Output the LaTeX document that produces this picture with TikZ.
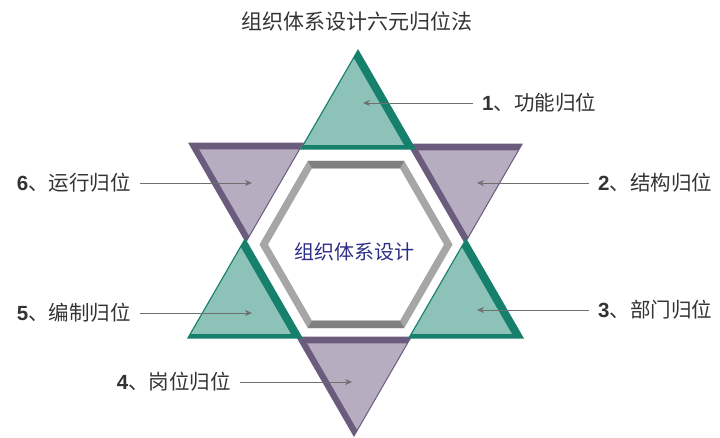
\documentclass[tikz,border=0pt]{standalone}
\usepackage{fontspec}
\newfontfamily\cjk{Noto Sans CJK SC}
\newfontfamily\arial{Liberation Sans}
\usetikzlibrary{shapes.geometric,arrows.meta}

\definecolor{teallight}{HTML}{8DC2B8}
\definecolor{tealdark}{HTML}{17806D}
\definecolor{plumlight}{HTML}{B7ADC1}
\definecolor{plumdark}{HTML}{6B5B7D}
\definecolor{hexlight}{HTML}{A6A6A6}
\definecolor{hexdark}{HTML}{7F7F7F}
\definecolor{navy}{HTML}{2E3087}
\definecolor{labelgray}{HTML}{333333}
\definecolor{pointergray}{HTML}{6F6F6F}

\newcommand{\lblnum}[1]{{\arial\bfseries #1}}

\tikzset{
  tri/.style={regular polygon, regular polygon sides=3, inner sep=0pt,
    outer sep=0pt, minimum size=134pt},
  upback/.style={tri, fill=tealdark},
  upface/.style={tri, fill=teallight, minimum size=115pt, xshift=-4pt},
  downback/.style={tri, shape border rotate=180, fill=plumdark},
  downface/.style={tri, shape border rotate=180, fill=plumlight,
    minimum size=115pt, xshift=3pt, yshift=-2pt},
  lbl/.style={font=\cjk\fontsize{20.5pt}{24pt}\selectfont, text=labelgray,
    inner xsep=9pt, inner ysep=2pt},
  pointer/.style={draw=pointergray, line width=0.8pt,
    -{Stealth[length=7pt,width=6pt]}},
}

\begin{document}
\begin{tikzpicture}[x=1pt, y=-1pt]

  \useasboundingbox (0,0) rectangle (720,437);

  % Title
  \node[font=\cjk\fontsize{21pt}{25pt}\selectfont, text=labelgray] (title)
    at (357,21) {组织体系设计六元归位法};

  % Hexagon ring
  \coordinate (hc) at (356,244.5);
  \begin{scope}[shift={(hc)}]
    \fill[hexlight, even odd rule]
      (0:96.5) -- (60:96.5) -- (120:96.5) -- (180:96.5) -- (240:96.5) -- (300:96.5) -- cycle
      (0:88) -- (60:88) -- (120:88) -- (180:88) -- (240:88) -- (300:88) -- cycle;
    \fill[hexdark] (60:96.5) -- (120:96.5) -- (120:88) -- (60:88) -- cycle;
    \fill[hexdark] (240:96.5) -- (300:96.5) -- (300:88) -- (240:88) -- cycle;
  \end{scope}
  \node[font=\cjk\fontsize{20pt}{24pt}\selectfont, text=navy] (core)
    at (354,252) {组织体系设计};

  % Down triangles
  \node[downback] (t2) at (465,177) {};
  \node[downface] at (t2) {};
  \node[downback] (t4) at (354,370) {};
  \node[downface] at (t4) {};
  \node[downback] (t6) at (246,176) {};
  \node[downface] at (t6) {};

  % Up triangles
  \node[upback] (t1) at (358,116) {};
  \node[upface] at (t1) {};
  \node[upback] (t3) at (466,305) {};
  \node[upface] at (t3) {};
  \node[upback] (t5) at (245,305) {};
  \node[upface] at (t5) {};

  % Labels
  \node[lbl, anchor=west] (l1) at (473,103) {\lblnum{1}、功能归位};
  \node[lbl, anchor=west] (l2) at (589,183) {\lblnum{2}、结构归位};
  \node[lbl, anchor=west] (l3) at (589,310) {\lblnum{3}、部门归位};
  \node[lbl, anchor=east] (l4) at (240,382) {\lblnum{4}、岗位归位};
  \node[lbl, anchor=east] (l5) at (140,313) {\lblnum{5}、编制归位};
  \node[lbl, anchor=east] (l6) at (140,183) {\lblnum{6}、运行归位};

  % Pointer ends
  \coordinate (p1) at (363,103);
  \coordinate (p2) at (477,183);
  \coordinate (p3) at (477,310);
  \coordinate (p4) at (352,382);
  \coordinate (p5) at (252,313);
  \coordinate (p6) at (252,183);

  \draw[pointer] (l1) -- (p1);
  \draw[pointer] (l2) -- (p2);
  \draw[pointer] (l3) -- (p3);
  \draw[pointer] (l4) -- (p4);
  \draw[pointer] (l5) -- (p5);
  \draw[pointer] (l6) -- (p6);

\end{tikzpicture}
\end{document}
